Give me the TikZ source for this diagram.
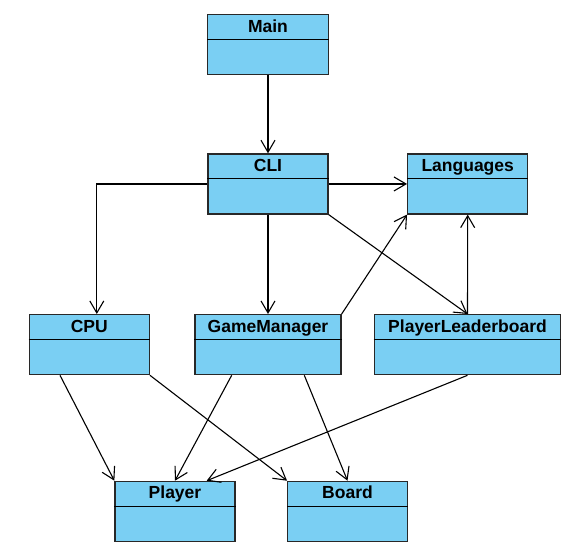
\documentclass[tikz,border=0pt]{standalone}
\usepackage{fontspec}
\setmainfont{Liberation Sans}
\usetikzlibrary{arrows.meta}
\definecolor{clsfill}{RGB}{122,207,243}
\definecolor{clsline}{RGB}{40,40,40}
\tikzset{
  cls/.style={draw=clsline, line width=1.3pt, fill=clsfill, rectangle, inner sep=0pt, minimum height=60pt},
  divline/.style={draw=black, line width=1.2pt},
  hdr/.style={inner sep=0pt, anchor=base, font=\fontsize{17.5}{20}\selectfont\bfseries},
  dep/.style={draw=black, line width=1.1pt, -{Straight Barb[length=12pt,width=14pt,line width=1.1pt]}},
}
\newcommand\umlclass[5]{%
  \node[cls, minimum width=#4, anchor=north] (#1) at (#2,#3) {};
  \draw[divline] ([yshift=-25.5pt]#1.north west) -- ([yshift=-25.5pt]#1.north east);
  \node[hdr] (#1-t) at ([yshift=-18pt]#1.north) {#5};
}
\begin{document}
\begin{tikzpicture}[x=1pt,y=-1pt]
\useasboundingbox (0,0) rectangle (570,546);
\umlclass{Main}{268}{14}{120.6pt}{Main}
\umlclass{CLI}{268}{153.3}{120pt}{CLI}
\umlclass{Lang}{467.7}{153.3}{120pt}{Languages}
\umlclass{CPU}{89.3}{314}{120pt}{CPU}
\umlclass{GM}{268}{314}{146pt}{GameManager}
\umlclass{PL}{467.5}{314}{186.4pt}{PlayerLeaderboard}
\umlclass{Player}{175}{480.7}{120pt}{Player}
\umlclass{Board}{347.5}{480.7}{119.6pt}{Board}

\draw[dep] (Main.south) -- (CLI.north);
\draw[dep] (CLI.west) -| ([xshift=7.5pt]CPU.north);
\draw[dep] (CLI.east) -- (Lang.west);
\draw[dep] (CLI.south) -- (GM.north);
\draw[dep] (CLI.south east) -- (PL.north);
\draw[dep] (GM.north east) -- (Lang.south west);
\draw[dep] (PL.north) -- (Lang.south);
\draw[dep] ([xshift=-29.3pt]CPU.south) -- (Player.north west);
\draw[dep] (CPU.south east) -- (Board.north west);
\draw[dep] ([xshift=-36.3pt]GM.south) -- (Player.north);
\draw[dep] ([xshift=36.3pt]GM.south) -- (Board.north);
\draw[dep] (PL.south) -- ([xshift=31.7pt]Player.north);
\end{tikzpicture}
\end{document}
